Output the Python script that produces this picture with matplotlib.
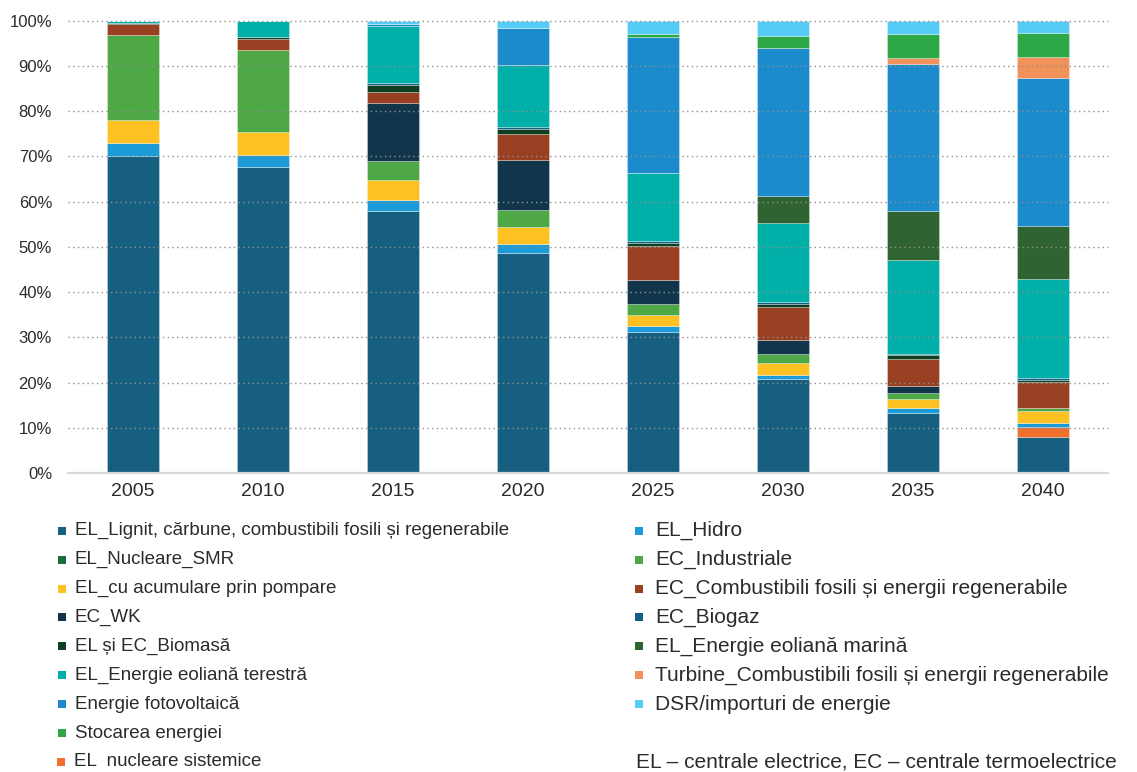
import matplotlib
matplotlib.use("Agg")
import matplotlib.pyplot as plt
from matplotlib.patches import Rectangle
import numpy as np

plt.rcParams['font.family'] = ['Liberation Sans', 'DejaVu Sans']

years = ["2005", "2010", "2015", "2020", "2025", "2030", "2035", "2040"]

# stacked from bottom to top (percent)
lignit      = [70.0, 67.6, 57.9, 48.6, 31.1, 20.7, 13.3, 7.9]
nucl_sist   = [0, 0, 0, 0, 0, 0, 0, 2.3]
hidro       = [2.9, 2.8, 2.4, 2.1, 1.4, 1.0, 1.0, 0.8]
nucl_smr    = [0, 0, 0, 0, 0, 0, 0, 0]
pompare     = [5.2, 5.0, 4.5, 3.6, 2.4, 2.7, 2.0, 2.7]
industriale = [18.8, 18.1, 4.2, 3.9, 2.4, 1.9, 1.3, 0.6]
wk          = [0, 0, 12.9, 10.9, 5.4, 3.2, 1.7, 0.1]
ec_comb     = [2.3, 2.5, 2.4, 5.8, 7.4, 7.2, 6.0, 5.7]
biomasa     = [0.3, 0.3, 1.4, 1.1, 0.7, 0.7, 0.7, 0.4]
biogaz      = [0, 0, 0.6, 0.4, 0.5, 0.4, 0.4, 0.4]
terestra    = [0.5, 3.7, 12.5, 13.7, 15.0, 17.4, 20.7, 22.1]
marina      = [0, 0, 0, 0, 0, 6.0, 10.8, 11.6]
fotovolt    = [0, 0, 0.5, 8.2, 30.2, 32.7, 32.6, 32.8]
turbine     = [0, 0, 0, 0, 0, 0, 1.3, 4.5]
stocare     = [0, 0, 0, 0, 0.6, 2.8, 5.3, 5.4]
dsr         = [0, 0, 0.7, 1.7, 2.9, 3.3, 2.9, 2.7]

series = [
    ("EL_Lignit, cărbune, combustibili fosili și regenerabile", lignit, "#175f80"),
    ("EL  nucleare sistemice", nucl_sist, "#ef6f2f"),
    ("EL_Hidro", hidro, "#1b9bd7"),
    ("EL_Nucleare_SMR", nucl_smr, "#1a6e3a"),
    ("EL_cu acumulare prin pompare", pompare, "#fec123"),
    ("EC_Industriale", industriale, "#4ea845"),
    ("EC_WK", wk, "#11364b"),
    ("EC_Combustibili fosili și energii regenerabile", ec_comb, "#9a4022"),
    ("EL și EC_Biomasă", biomasa, "#0f3f1e"),
    ("EC_Biogaz", biogaz, "#155f82"),
    ("EL_Energie eoliană terestră", terestra, "#00b0a8"),
    ("EL_Energie eoliană marină", marina, "#2f6432"),
    ("Energie fotovoltaică", fotovolt, "#1b8bcc"),
    ("Turbine_Combustibili fosili și energii regenerabile", turbine, "#f0925a"),
    ("Stocarea energiei", stocare, "#2ea846"),
    ("DSR/importuri de energie", dsr, "#55ccf5"),
]
colors = {name: c for name, _, c in series}

W, H = 1137, 772
fig = plt.figure(figsize=(W / 100, H / 100), dpi=100)
ax = fig.add_axes([68 / W, 1 - 473 / H, 1040 / W, (473 - 20.7) / H])

x = np.arange(len(years))
bottom = np.zeros(len(years))
for name, vals, col in series:
    v = np.array(vals, dtype=float)
    ax.bar(x, v, 0.4, bottom=bottom, color=col, edgecolor=(1, 1, 1, 0.35),
           linewidth=0.6, zorder=2)
    bottom += v

ax.set_xlim(-0.5, len(years) - 0.5)
ax.set_ylim(0, 100)
ax.set_yticks(np.arange(0, 101, 10))
ax.set_yticklabels([f"{v}%" for v in range(0, 101, 10)])
ax.set_xticks(x)
ax.set_xticklabels(years)
for v in range(10, 101, 10):
    ax.axhline(v, color="#8f8f8f", linewidth=1.0, linestyle=(0, (1, 2.4)), zorder=3, clip_on=False)
for s in ["top", "right", "left"]:
    ax.spines[s].set_visible(False)
ax.spines["bottom"].set_color("#d9d9d9")
ax.spines["bottom"].set_linewidth(1.6)
ax.spines["bottom"].set_zorder(4)
ax.tick_params(axis="y", length=0, pad=11.5, labelsize=12, labelcolor="#2b2b2b")
ax.tick_params(axis="x", length=0, pad=7, labelsize=14, labelcolor="#2b2b2b")

# legend laid out manually
left_col = ["EL_Lignit, cărbune, combustibili fosili și regenerabile", "EL_Nucleare_SMR",
            "EL_cu acumulare prin pompare", "EC_WK", "EL și EC_Biomasă",
            "EL_Energie eoliană terestră", "Energie fotovoltaică", "Stocarea energiei",
            "EL  nucleare sistemice"]
right_col = ["EL_Hidro", "EC_Industriale", "EC_Combustibili fosili și energii regenerabile",
             "EC_Biogaz", "EL_Energie eoliană marină",
             "Turbine_Combustibili fosili și energii regenerabile", "DSR/importuri de energie"]

row0 = 530.7
dy = 28.9
fs_l = 13.5
fs_r = 15.0
def entry(xm, xt, row, name, fs):
    yc = row0 + row * dy
    fig.add_artist(Rectangle((xm / W, 1 - (yc + 4) / H), 8 / W, 8 / H,
                             transform=fig.transFigure, color=colors[name], lw=0))
    fig.text(xt / W, 1 - yc / H, name, fontsize=fs, color="#2b2b2b", va="center", ha="left")

for i, n in enumerate(left_col):
    if i == 8:
        entry(57, 74, i, n, fs_l)
    else:
        entry(58, 75, i, n, fs_l)
for i, n in enumerate(right_col):
    entry(635, 655, i, n, fs_r)
fig.text(636 / W, 1 - (row0 + 8 * dy) / H, "EL – centrale electrice, EC – centrale termoelectrice",
         fontsize=fs_r, color="#2b2b2b", va="center", ha="left")

fig.savefig("out.png", dpi=100)
